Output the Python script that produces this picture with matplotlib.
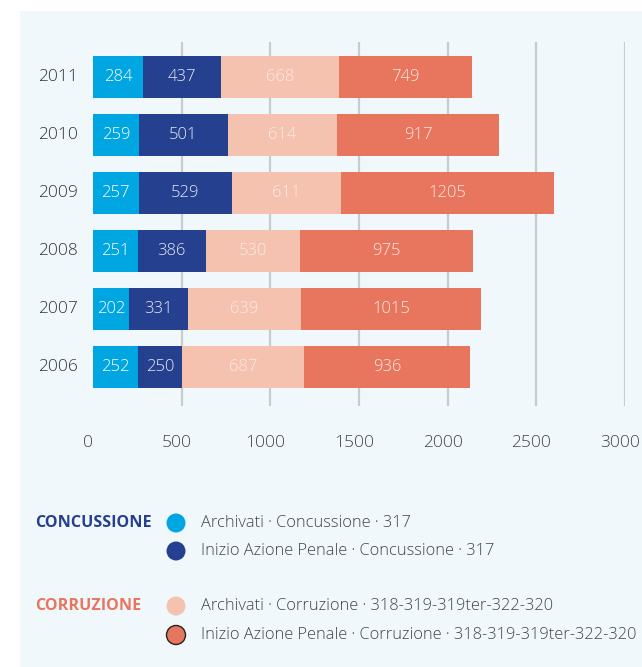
import matplotlib
matplotlib.use("Agg")
import matplotlib.pyplot as plt
from matplotlib.patches import Rectangle, Ellipse
import numpy as np

plt.rcParams['font.family'] = ['Open Sans', 'DejaVu Sans']

years = ["2006", "2007", "2008", "2009", "2010", "2011"]
archiviati_concussione = [252, 202, 251, 257, 259, 284]
azione_concussione = [250, 331, 386, 529, 501, 437]
archiviati_corruzione = [687, 639, 530, 611, 614, 668]
azione_corruzione = [936, 1015, 975, 1205, 917, 749]

series = [archiviati_concussione, azione_concussione,
          archiviati_corruzione, azione_corruzione]
colors = ["#00A6E1", "#25408F", "#F4C2AF", "#E8765F"]
label_colors = ["white", "#E6E9F3", "#FBEAE3", "#FBEAE3"]
legend_labels = [
    "Archivati · Concussione · 317",
    "Inizio Azione Penale · Concussione · 317",
    "Archivati · Corruzione · 318-319-319ter-322-320",
    "Inizio Azione Penale · Corruzione · 318-319-319ter-322-320",
]
xticks = [0, 500, 1000, 1500, 2000, 2500, 3000]

W, H = 642, 667
fig = plt.figure(figsize=(W / 100, H / 100), dpi=100)
fig.patch.set_facecolor("white")
bg = "#F1F8FC"
fig.add_artist(Rectangle((20 / W, 0), 1 - 20 / W, 1 - 11 / H,
                         transform=fig.transFigure, facecolor=bg,
                         edgecolor="none", zorder=-10))

ax = fig.add_axes([93 / W, 1 - 406 / H, (625 - 93) / W, (406 - 42) / H])
ax.set_facecolor("none")
ax.set_xlim(0, 3000)
ax.set_ylim(-0.67, 5.603)
px = 3000 / (625 - 93)  # data units per pixel

y = np.arange(len(years))
left = np.zeros(len(years))
for vals, col, lc in zip(series, colors, label_colors):
    vals = np.array(vals, dtype=float)
    ax.barh(y, vals, left=left, height=0.73, color=col, zorder=3)
    for yi, l, v in zip(y, left, vals):
        ax.text(l + v / 2, yi, f"{int(v)}", ha="center", va="center",
                color=lc, fontsize=12, fontweight="light", zorder=4)
    left += vals

for xt in xticks[1:]:
    ax.axvline(xt, color="#C8CCCF", lw=1.6, zorder=1)

for s in ax.spines.values():
    s.set_visible(False)
ax.set_xticks([])
ax.set_yticks([])

for xt in xticks:
    ax.text(xt - 5 * px, -0.67 - 37 / 58, str(xt), ha="center", va="center",
            fontsize=12.5, fontweight="light", color="#444444", clip_on=False)
for yi, yr in zip(y, years):
    ax.text(-15 * px, yi, yr, ha="right", va="center",
            fontsize=12.5, fontweight="light", color="#333333", clip_on=False)

# Legend
def fy(py):
    return 1 - py / H

fig.text(35 / W, fy(523), "CONCUSSIONE", fontsize=11.6, fontweight="bold",
         color="#25408F", va="center", ha="left")
fig.text(35 / W, fy(606), "CORRUZIONE", fontsize=11.6, fontweight="bold",
         color="#E8765F", va="center", ha="left")
ypos = [523, 551, 606, 635]
for i, (py, col, lab) in enumerate(zip(ypos, colors, legend_labels)):
    edge = "#222222" if i == 3 else "none"
    fig.add_artist(Ellipse(
        (176 / W, fy(py)), 19 / W, 19 / H, transform=fig.transFigure,
        facecolor=col, edgecolor=edge, lw=1.0))
    fig.text(201 / W, fy(py), lab, fontsize=11.8, fontweight="light",
             color="#444444", va="center", ha="left")

fig.savefig("out.png", dpi=100, facecolor=fig.get_facecolor())
